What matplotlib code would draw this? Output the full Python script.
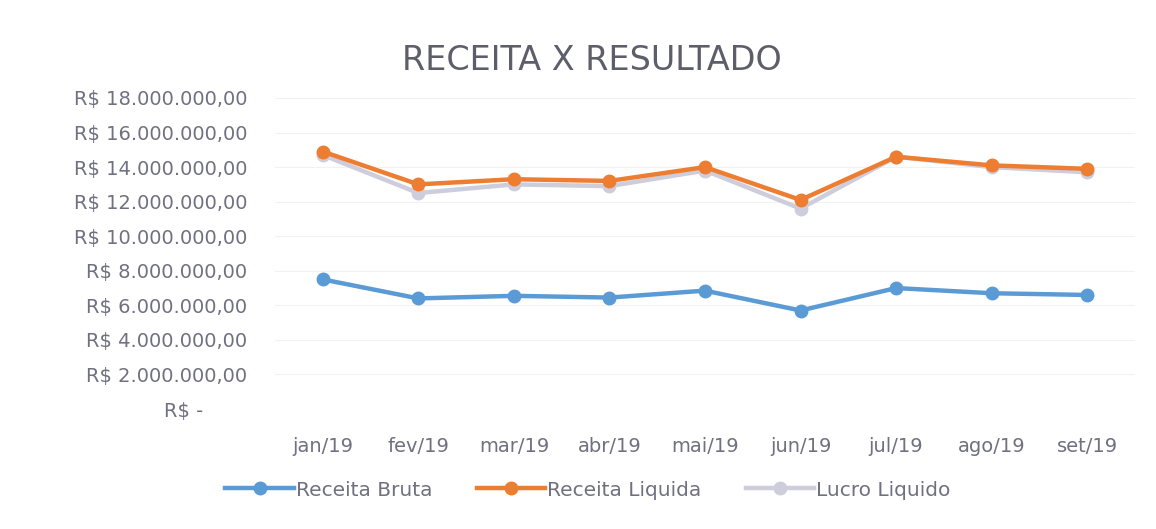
import matplotlib
matplotlib.use("Agg")
import matplotlib.pyplot as plt
from matplotlib.ticker import FuncFormatter

plt.rcParams['font.family'] = ['DejaVu Sans']

months = ["jan/19", "fev/19", "mar/19", "abr/19", "mai/19", "jun/19", "jul/19", "ago/19", "set/19"]
receita_bruta = [7.5e6, 6.4e6, 6.55e6, 6.45e6, 6.85e6, 5.7e6, 7.0e6, 6.7e6, 6.6e6]
receita_liquida = [14.9e6, 13.0e6, 13.3e6, 13.2e6, 14.0e6, 12.1e6, 14.6e6, 14.1e6, 13.9e6]
lucro_liquido = [14.7e6, 12.5e6, 13.0e6, 12.9e6, 13.8e6, 11.6e6, 14.6e6, 14.0e6, 13.7e6]

W, H = 1156, 529
fig = plt.figure(figsize=(W/100, H/100), dpi=100)
ax = fig.add_axes([275/W, 1-409/H, 860/W, 311/H])

x = list(range(len(months)))
ax.plot(x, receita_bruta, color="#5B9BD5", lw=3.2, marker="o", ms=9, label="Receita Bruta", zorder=3)
ax.plot(x, receita_liquida, color="#ED7D31", lw=3.2, marker="o", ms=9, label="Receita Liquida", zorder=3)
ax.plot(x, lucro_liquido, color="#CDCDDC", lw=3.2, marker="o", ms=9, label="Lucro Liquido", zorder=2)

ax.set_xlim(-0.5, len(months)-0.5)
ax.set_ylim(0, 18e6)
ax.set_yticks([i*2e6 for i in range(10)])

def fmt(v, pos):
    if v == 0:
        return "R$ -       "
    s = f"{v:,.2f}".replace(",", "X").replace(".", ",").replace("X", ".")
    return "R$ " + s
ax.yaxis.set_major_formatter(FuncFormatter(fmt))
ax.set_xticks(x)
ax.set_xticklabels(months)

for s in ax.spines.values():
    s.set_visible(False)
ax.tick_params(axis='both', length=0, colors="#707080")
ax.tick_params(axis='y', pad=20, labelsize=14)
ax.tick_params(axis='x', pad=20, labelsize=14)
ax.grid(axis='y', color="#F2F2F2", lw=0.8)
ax.set_axisbelow(True)

fig.text(592/W, 1-61/H, "RECEITA X RESULTADO", ha="center", va="center", fontsize=24, color="#5E5E6A")

leg = fig.legend(loc="center", bbox_to_anchor=(588/W, 1-490/H), ncol=3, frameon=False,
                 fontsize=14.5, handlelength=3.4, handletextpad=0.1, columnspacing=2.2)
for t in leg.get_texts():
    t.set_color("#707080")

fig.savefig("out.png", dpi=100, facecolor="white")
